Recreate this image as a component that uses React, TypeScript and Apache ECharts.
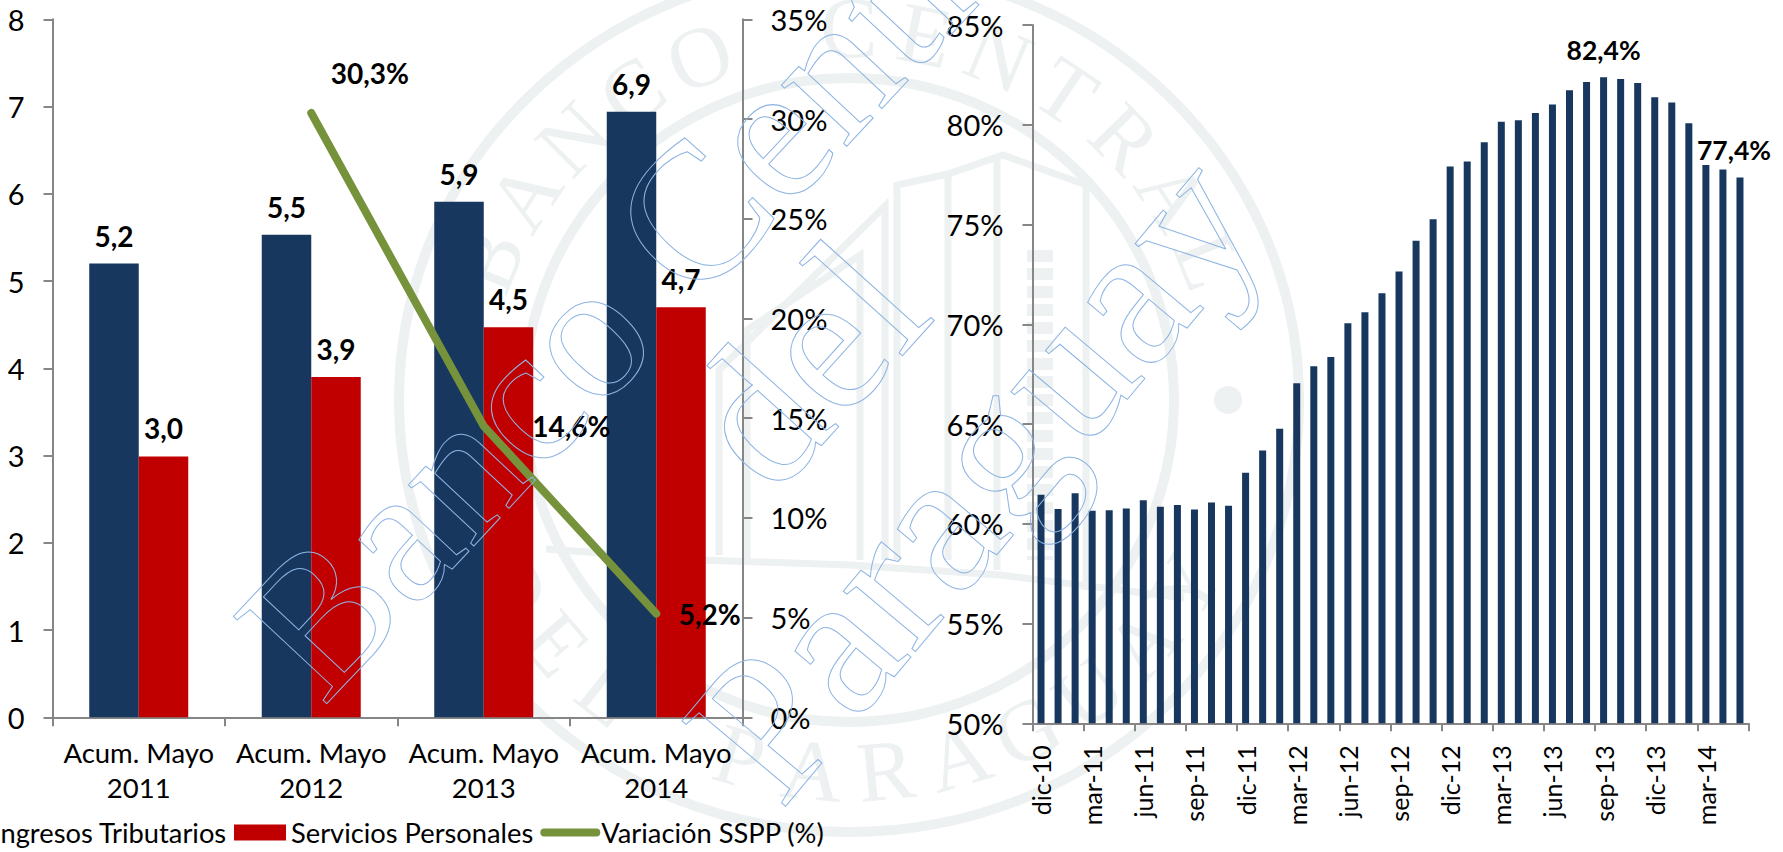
import React, { useEffect, useRef } from "react";
import * as echarts from "echarts";

const periods = ["Acum. Mayo\n2011", "Acum. Mayo\n2012", "Acum. Mayo\n2013", "Acum. Mayo\n2014"];
const ingresos = [5.2, 5.53, 5.91, 6.94];
const servicios = [2.99, 3.9, 4.47, 4.7];
const variacion = [null, 30.3, 14.6, 5.2];
const leftTicks = { min: 0, max: 8, interval: 1 };
const pctTicks = { min: 0, max: 35, interval: 5 };

const months = [
  "dic-10", "ene-11", "feb-11", "mar-11", "abr-11", "may-11", "jun-11", "jul-11", "ago-11", "sep-11", "oct-11", "nov-11",
  "dic-11", "ene-12", "feb-12", "mar-12", "abr-12", "may-12", "jun-12", "jul-12", "ago-12", "sep-12", "oct-12", "nov-12",
  "dic-12", "ene-13", "feb-13", "mar-13", "abr-13", "may-13", "jun-13", "jul-13", "ago-13", "sep-13", "oct-13", "nov-13",
  "dic-13", "ene-14", "feb-14", "mar-14", "abr-14", "may-14",
];
const ratio = [
  61.46, 60.74, 61.53, 60.65, 60.68, 60.77, 61.18, 60.85, 60.94, 60.72, 61.07, 60.91,
  62.56, 63.67, 64.76, 67.04, 67.89, 68.36, 70.05, 70.6, 71.55, 72.64, 74.19, 75.26,
  77.91, 78.16, 79.12, 80.15, 80.22, 80.59, 81.01, 81.73, 82.14, 82.38, 82.29, 82.09,
  81.38, 81.11, 80.07, 77.98, 77.76, 77.36,
];
const labelledMonths = ["sep-13", "may-14"];

const FONT = "Lato";
const BLUE = "#17375E";
const RED = "#C00000";
const GREEN = "#76933C";
const GREY = "#868686";
const SEAL = "#EDF1F1";
const OUTLINE = "#8DB4E2";

const comma = (v: number, d = 1) => v.toFixed(d).replace(".", ",");

function arcText(text: string, cx: number, cy: number, rx: number, ry: number, from: number, to: number, bottom: boolean) {
  const els: any[] = [];
  const n = text.length;
  for (let i = 0; i < n; i++) {
    if (text[i] === " ") continue;
    const a = ((from + ((to - from) * i) / (n - 1)) * Math.PI) / 180;
    const x = cx + rx * Math.sin(a);
    const y = bottom ? cy + ry * Math.cos(a) : cy - ry * Math.cos(a);
    els.push({
      type: "text", x, y, z: -10, silent: true,
      rotation: bottom ? a : -a,
      style: { text: text[i], font: "86px 'Liberation Serif'", fill: SEAL, align: "center", verticalAlign: "middle" },
    });
  }
  return els;
}

function sealGraphics() {
  const cx = 849, cy = 400;
  const line = (points: number[][], w = 7) => ({
    type: "polyline", z: -10, silent: true, shape: { points },
    style: { stroke: SEAL, lineWidth: w, fill: "none" },
  });
  const ring = (rx: number, ry: number, w: number) => ({
    type: "ellipse", z: -10, silent: true, shape: { cx, cy, rx, ry },
    style: { stroke: SEAL, lineWidth: w, fill: "none" },
  });
  return [
    ring(450, 432, 10),
    ring(325, 322, 10),
    { type: "circle", z: -10, silent: true, shape: { cx: 1228, cy: 400, r: 14 }, style: { fill: SEAL } },
    { type: "circle", z: -10, silent: true, shape: { cx: 470, cy: 400, r: 14 }, style: { fill: SEAL } },
    ...arcText("BANCO CENTRAL", cx, cy, 388, 372, -68, 68, false),
    ...arcText("DEL PARAGUAY", cx, cy, 388, 372, -60, 60, true),
    line([[719, 555], [719, 370], [885, 206], [885, 560]]),
    line([[747, 560], [747, 330], [860, 255], [860, 560]]),
    line([[897, 560], [897, 185], [948, 174], [1003, 155], [1086, 185], [1086, 590]]),
    line([[948, 560], [948, 174]]),
    line([[997, 570], [997, 155]]),
    { type: "line", z: -10, silent: true, shape: { x1: 1040, y1: 250, x2: 1040, y2: 560 }, style: { stroke: SEAL, lineWidth: 26, lineDash: [12, 6] } },
    line([[546, 549], [700, 560], [850, 565], [1000, 575], [1184, 598]]),
  ];
}

function outlineText(text: string, x: number, y: number, size: number, deg: number) {
  return {
    type: "text", x, y, z: 1000, silent: true,
    rotation: (deg * Math.PI) / 180,
    style: {
      text, font: `${size}px 'Liberation Serif'`, fill: "none",
      stroke: OUTLINE, lineWidth: 1, align: "center", verticalAlign: "middle",
    },
  };
}

export default function App() {
  const ref = useRef<HTMLDivElement>(null);
  useEffect(() => {
    const chart = echarts.init(ref.current!, undefined, { renderer: "svg" });
    const axisText = { fontFamily: FONT, color: "#000", fontSize: 29 };
    const greyLine = (w: number) => ({ show: true, lineStyle: { color: GREY, width: w } });
    const barLabel = {
      show: true, position: "top", distance: 14,
      fontFamily: FONT, fontWeight: "bold", fontSize: 28, color: "#000",
      formatter: (p: any) => comma(p.value),
    };
    const lineOffsets = [null, [14, -40], [43, 0], [17, 0]];
    const lineLabelled = variacion.map((v, i) =>
      v === null ? null : { value: v, label: { show: true, position: "right", offset: lineOffsets[i] } },
    );
    chart.setOption({
      animation: false,
      backgroundColor: "#fff",
      textStyle: { fontFamily: FONT },
      grid: [
        { left: 52.5, top: 19.3, width: 690, height: 698 },
        { left: 1032.5, top: 25, width: 716, height: 698.3 },
      ],
      xAxis: [
        {
          type: "category", gridIndex: 0, data: periods,
          axisLine: greyLine(2), axisTick: { show: true, length: 9, lineStyle: { color: GREY, width: 2 } },
          axisLabel: { ...axisText, fontSize: 27.5, margin: 18, lineHeight: 35, interval: 0 },
        },
        {
          type: "category", gridIndex: 1, data: months,
          axisLine: greyLine(2), axisTick: { show: true, length: 8, interval: 2, lineStyle: { color: GREY, width: 2 } },
          axisLabel: { ...axisText, fontSize: 25, margin: 22, rotate: 90, interval: 2 },
        },
      ],
      yAxis: [
        {
          type: "value", gridIndex: 0, position: "left", ...leftTicks, splitLine: { show: false },
          axisLine: greyLine(2), axisTick: { show: true, length: 9, lineStyle: { color: GREY, width: 2 } },
          axisLabel: { ...axisText, margin: 28, padding: [0, 0, 3, 0] },
        },
        {
          type: "value", gridIndex: 0, position: "right", ...pctTicks, splitLine: { show: false },
          axisLine: greyLine(2), axisTick: { show: true, length: 10, lineStyle: { color: GREY, width: 2 } },
          axisLabel: { ...axisText, margin: 28, padding: [0, 0, 3, 0], formatter: "{value}%" },
        },
        {
          type: "value", gridIndex: 1, min: 50, max: 85, interval: 5, splitLine: { show: false },
          axisLine: greyLine(2), axisTick: { show: true, length: 10, lineStyle: { color: GREY, width: 2 } },
          axisLabel: { ...axisText, margin: 29, padding: [0, 0, 3, 0], formatter: "{value}%" },
        },
      ],
      legend: {
        left: -64, top: 819, itemWidth: 52, itemHeight: 16, itemGap: 7, padding: 0,
        textStyle: { fontFamily: FONT, fontSize: 27.3, color: "#000" },
        data: [
          { name: "Ingresos Tributarios", icon: "rect" },
          { name: "Servicios Personales", icon: "rect" },
          { name: "Variación SSPP (%)", itemStyle: { opacity: 0 }, lineStyle: { width: 8, cap: "round" } },
        ],
      },
      series: [
        {
          name: "Ingresos Tributarios", type: "bar", xAxisIndex: 0, yAxisIndex: 0, data: ingresos,
          barGap: 0, barCategoryGap: "42.6%", itemStyle: { color: BLUE }, label: barLabel,
        },
        {
          name: "Servicios Personales", type: "bar", xAxisIndex: 0, yAxisIndex: 0, data: servicios,
          barGap: 0, barCategoryGap: "42.6%", itemStyle: { color: RED }, label: barLabel,
        },
        {
          name: "Variación SSPP (%)", type: "line", xAxisIndex: 0, yAxisIndex: 1, data: lineLabelled,
          symbol: "circle", symbolSize: 1, showSymbol: true, connectNulls: false, z: 5,
          lineStyle: { color: GREEN, width: 8, cap: "round", join: "round" },
          itemStyle: { color: GREEN },
          label: {
            fontFamily: FONT, fontWeight: "bold", fontSize: 28, color: "#000",
            formatter: (p: any) => comma(p.value) + "%",
          },
        },
        {
          name: "Ratio", type: "bar", xAxisIndex: 1, yAxisIndex: 2, barWidth: 7,
          itemStyle: { color: BLUE },
          data: ratio.map((v, i) =>
            labelledMonths.includes(months[i])
              ? {
                  value: v,
                  label: {
                    show: true, position: "top", distance: 14, offset: months[i] === "may-14" ? [-6, 0] : [0, 0],
                    fontFamily: FONT, fontWeight: "bold", fontSize: 26.5, color: "#000",
                    formatter: (p: any) => comma(p.value) + "%",
                  },
                }
              : v,
          ),
        },
      ],
      graphic: [
        ...sealGraphics(),
        outlineText("Banco Central", 657, 253, 195, 47),
        outlineText("del", 805, 363, 200, 48),
        outlineText("Paraguay", 973, 475, 205, 50),
      ],
    });
    return () => chart.dispose();
  }, []);
  return <div ref={ref} style={{ position: "fixed", left: 0, top: 0, width: 1783, height: 852 }} />;
}
